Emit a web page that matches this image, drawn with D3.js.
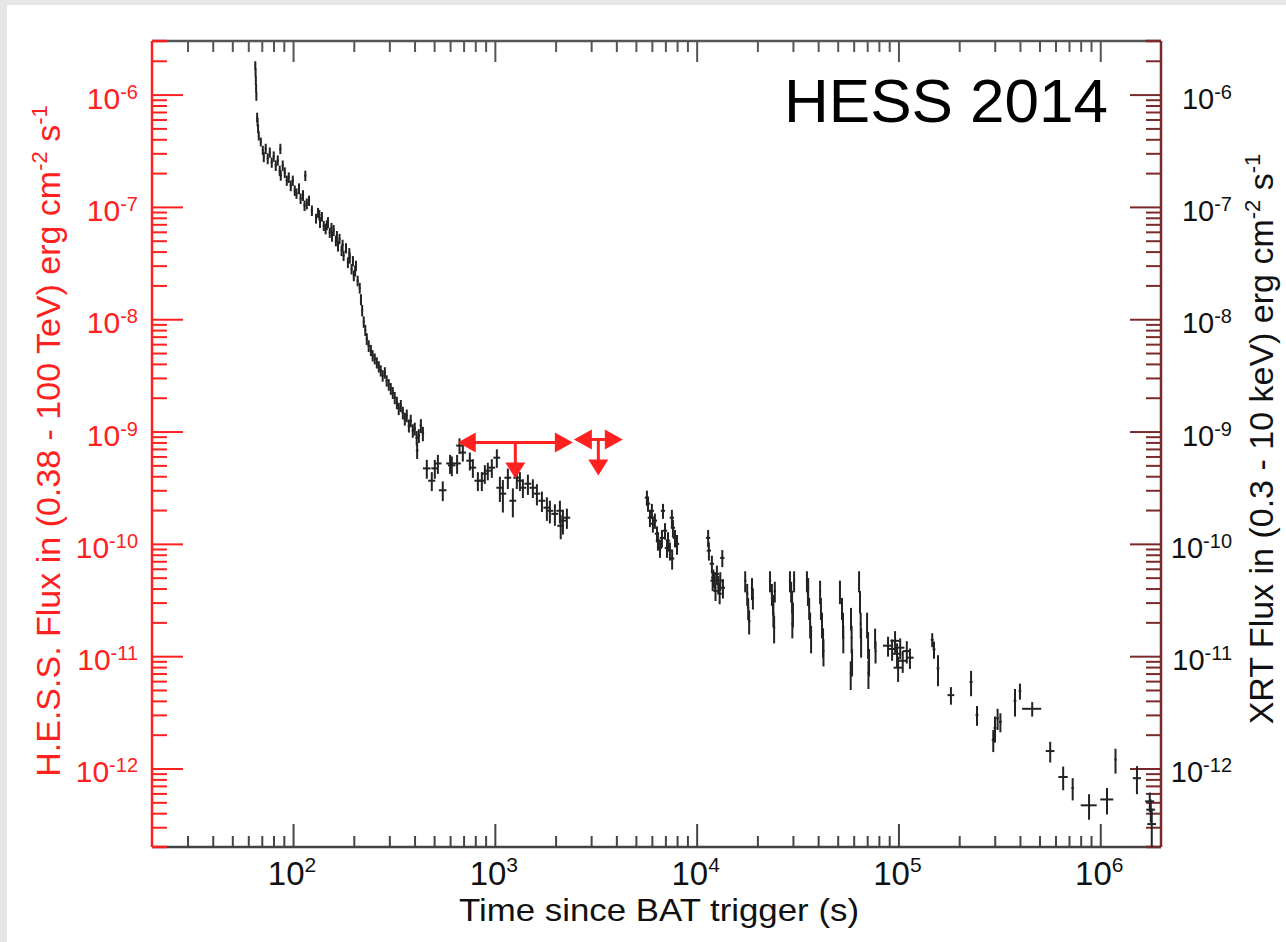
<!DOCTYPE html>
<html>
<head>
<meta charset="utf-8">
<script src="https://cdn.jsdelivr.net/npm/d3@7"></script>
<style>
  body { margin: 0; background: #e6e6e6; }
  svg { display: block; }
  text { font-family: "Liberation Sans", Arial, Helvetica, sans-serif; }
</style>
</head>
<body>
<svg id="chart" width="1286" height="942"></svg>
<script>
// XRT light curve, rows are [time (s), time half-width (s), flux, flux error]
const xrtEarly = [
  [65.0, 0.4, 1.82e-6, 0.16e-6], [65.2, 0.4, 1.58e-6, 0.14e-6], [65.4, 0.4, 1.34e-6, 0.12e-6],
  [65.6, 0.4, 1.14e-6, 0.10e-6], [65.8, 0.4, 9.7e-7, 0.9e-7], [66.4, 0.5, 6.3e-7, 0.6e-7],
  [66.7, 0.5, 5.7e-7, 0.5e-7], [67.1, 0.5, 5.0e-7, 0.45e-7], [67.6, 0.6, 4.3e-7, 0.4e-7],
  [69.2, 0.7, 3.8e-7, 0.35e-7], [70.8, 0.7, 3.2e-7, 0.3e-7], [71.6, 0.7, 2.8e-7, 0.3e-7],
  [73.2, 0.8, 3.3e-7, 0.35e-7], [74.9, 0.8, 2.7e-7, 0.3e-7], [76.7, 0.8, 3.06e-7, 0.32e-7],
  [78.4, 0.9, 2.49e-7, 0.26e-7], [80.2, 0.9, 2.82e-7, 0.3e-7], [82.1, 0.9, 2.34e-7, 0.25e-7],
  [84.0, 1.0, 2.6e-7, 0.27e-7], [85.9, 1.0, 2.11e-7, 0.22e-7], [86.5, 1.0, 3.3e-7, 0.35e-7],
  [86.9, 1.0, 1.91e-7, 0.2e-7], [88.9, 1.0, 2.34e-7, 0.25e-7], [91.0, 1.1, 2.03e-7, 0.22e-7],
  [93.1, 1.1, 1.72e-7, 0.18e-7], [95.2, 1.1, 1.83e-7, 0.2e-7], [97.4, 1.2, 1.55e-7, 0.17e-7],
  [99.7, 1.2, 1.72e-7, 0.18e-7], [102, 1.2, 1.40e-7, 0.15e-7], [104, 1.3, 1.32e-7, 0.14e-7],
  [107, 1.3, 1.46e-7, 0.16e-7], [109, 1.3, 1.19e-7, 0.13e-7], [112, 1.4, 1.27e-7, 0.14e-7],
  [114, 1.4, 1.03e-7, 0.11e-7], [115, 1.4, 1.9e-7, 0.2e-7], [117, 1.4, 1.07e-7, 0.12e-7],
  [120, 1.5, 1.14e-7, 0.12e-7], [124, 1.5, 9.3e-8, 1.0e-8]
]

const xrtDense = [
  [130, 1.5, 7.9e-8, 0.8e-8], [133, 1.5, 8.9e-8, 0.9e-8], [135, 1.5, 8.5e-8, 0.9e-8],
  [136, 1.5, 7.3e-8, 0.8e-8], [139, 1.6, 8.2e-8, 0.8e-8], [142, 1.6, 6.8e-8, 0.7e-8],
  [145, 1.6, 6.4e-8, 0.7e-8], [147, 1.6, 6.9e-8, 0.7e-8], [149, 1.7, 7.3e-8, 0.8e-8],
  [152, 1.7, 5.9e-8, 0.6e-8], [155, 1.7, 6.5e-8, 0.7e-8], [156, 1.7, 5.5e-8, 0.6e-8],
  [159, 1.8, 6.2e-8, 0.7e-8], [163, 1.8, 5.0e-8, 0.55e-8], [165, 1.8, 5.5e-8, 0.6e-8],
  [167, 1.9, 4.5e-8, 0.5e-8], [170, 1.9, 5.2e-8, 0.55e-8], [174, 1.9, 4.1e-8, 0.45e-8],
  [176, 2.0, 4.6e-8, 0.5e-8], [178, 2.0, 3.7e-8, 0.4e-8], [183, 2.0, 4.3e-8, 0.45e-8],
  [187, 2.1, 3.2e-8, 0.35e-8], [190, 2.1, 3.9e-8, 0.4e-8], [191, 2.1, 3.5e-8, 0.38e-8],
  [195, 2.2, 2.8e-8, 0.3e-8], [198, 2.2, 3.3e-8, 0.35e-8], [200, 2.2, 2.45e-8, 0.27e-8],
  [203, 2.3, 2.7e-8, 0.3e-8], [205, 2.3, 3.0e-8, 0.32e-8], [209, 2.3, 2.2e-8, 0.24e-8],
  [214, 2.4, 1.9e-8, 0.21e-8], [217, 2.4, 1.5e-8, 0.17e-8], [220, 2.5, 1.2e-8, 0.14e-8],
  [224, 2.5, 9.5e-9, 1.1e-9], [228, 2.5, 8.0e-9, 0.9e-9]
]

const xrtSteep = [
  [232, 3, 6.7e-9, 0.8e-9], [237, 3, 5.8e-9, 0.7e-9], [243, 3, 5.3e-9, 0.6e-9],
  [248, 3, 4.75e-9, 0.55e-9], [254, 3, 4.46e-9, 0.5e-9], [260, 3, 4.11e-9, 0.47e-9],
  [266, 3, 3.79e-9, 0.44e-9], [272, 3, 3.49e-9, 0.4e-9], [278, 3, 3.15e-9, 0.37e-9],
  [285, 3.5, 3.35e-9, 0.39e-9], [291, 3.5, 2.84e-9, 0.33e-9], [298, 3.5, 2.62e-9, 0.31e-9],
  [305, 3.5, 2.41e-9, 0.29e-9], [312, 4, 2.22e-9, 0.27e-9], [319, 4, 2.0e-9, 0.25e-9],
  [327, 4, 1.81e-9, 0.23e-9], [334, 4, 1.6e-9, 0.2e-9], [342, 4, 1.7e-9, 0.21e-9],
  [350, 4.5, 1.47e-9, 0.19e-9], [358, 4.5, 1.3e-9, 0.17e-9], [366, 4.5, 1.39e-9, 0.18e-9],
  [375, 5, 1.13e-9, 0.15e-9], [383, 5, 1.25e-9, 0.16e-9], [392, 5, 1.02e-9, 0.14e-9],
  [401, 5, 1.06e-9, 0.14e-9], [410, 6, 8.8e-10, 1.3e-10], [412, 6, 6.8e-10, 1.1e-10],
  [420, 6, 9.2e-10, 1.3e-10], [430, 6, 1.13e-9, 0.16e-9], [440, 6, 9.6e-10, 1.4e-10]
]

const xrtPlateau = [
  [460, 20, 4.7e-10, 0.9e-10], [487, 20, 3.65e-10, 0.7e-10], [504, 20, 4.7e-10, 0.9e-10],
  [522, 22, 5.2e-10, 1.0e-10], [552, 24, 3.0e-10, 0.6e-10], [600, 26, 5.2e-10, 1.0e-10],
  [612, 26, 5.0e-10, 1.0e-10], [650, 28, 5.2e-10, 1.0e-10], [668, 25, 7.5e-10, 1.2e-10],
  [694, 25, 6.5e-10, 1.1e-10], [752, 30, 5.5e-10, 1.0e-10], [778, 30, 4.77e-10, 0.9e-10],
  [824, 32, 3.65e-10, 0.7e-10], [862, 34, 3.65e-10, 0.7e-10], [892, 35, 4.22e-10, 0.8e-10],
  [923, 36, 4.48e-10, 0.8e-10], [966, 38, 4.77e-10, 0.9e-10], [1023, 40, 5.85e-10, 1.1e-10],
  [1059, 42, 3.16e-10, 0.8e-10], [1096, 43, 2.8e-10, 0.9e-10], [1160, 45, 3.88e-10, 0.8e-10],
  [1228, 48, 2.42e-10, 0.7e-10], [1285, 50, 3.88e-10, 0.8e-10], [1331, 52, 3.65e-10, 0.7e-10],
  [1377, 54, 3.16e-10, 0.6e-10], [1458, 57, 3.43e-10, 0.7e-10], [1543, 60, 3.16e-10, 0.6e-10],
  [1616, 63, 2.8e-10, 0.6e-10], [1711, 67, 2.42e-10, 0.5e-10], [1811, 70, 2.1e-10, 0.5e-10],
  [1874, 73, 1.97e-10, 0.45e-10], [1984, 78, 1.85e-10, 0.4e-10], [2101, 82, 1.97e-10, 0.45e-10],
  [2120, 82, 1.45e-10, 0.35e-10], [2174, 85, 1.61e-10, 0.4e-10], [2275, 88, 1.71e-10, 0.35e-10]
]

const xrtOrbits = [
  [5670, 140, 2.58e-10, 0.4e-10], [5740, 140, 2.28e-10, 0.35e-10], [5870, 150, 1.71e-10, 0.3e-10],
  [6000, 150, 1.97e-10, 0.3e-10], [6070, 150, 1.51e-10, 0.25e-10], [6210, 155, 1.61e-10, 0.25e-10],
  [6360, 160, 1.23e-10, 0.2e-10], [6430, 160, 1.07e-10, 0.2e-10], [6580, 165, 9.2e-11, 1.7e-11],
  [6730, 170, 1.13e-10, 0.2e-10], [6810, 170, 1.97e-10, 0.3e-10], [6970, 175, 1.31e-10, 0.22e-10],
  [7130, 180, 9.2e-11, 1.7e-11], [7210, 180, 1.07e-10, 0.2e-10], [7370, 185, 8.7e-11, 1.6e-11],
  [7540, 190, 1.71e-10, 0.3e-10], [7560, 190, 7.4e-11, 1.5e-11], [7630, 190, 1.39e-10, 0.25e-10],
  [7810, 195, 1.13e-10, 0.2e-10], [7990, 200, 1.0e-10, 0.2e-10],
  [11400, 280, 1.13e-10, 0.2e-10], [11500, 280, 8.7e-11, 1.6e-11], [11900, 300, 6.65e-11, 1.2e-11],
  [12000, 300, 4.7e-11, 0.9e-11], [12100, 300, 5.0e-11, 0.9e-11], [12300, 300, 4.7e-11, 0.9e-11],
  [12400, 310, 3.8e-11, 0.7e-11], [12600, 310, 5.4e-11, 1.0e-11], [12800, 320, 4.4e-11, 0.8e-11],
  [13000, 320, 3.6e-11, 0.7e-11], [13100, 320, 4.7e-11, 0.9e-11], [13400, 330, 7.5e-11, 1.3e-11],
  [13500, 330, 4.06e-11, 0.8e-11],
  [17400, 250, 4.7e-11, 1.0e-11], [17800, 250, 3.6e-11, 0.8e-11], [18000, 250, 2.7e-11, 0.6e-11],
  [18200, 250, 2.06e-11, 0.5e-11], [18800, 250, 4.06e-11, 0.9e-11], [19000, 250, 3.3e-11, 0.7e-11],
  [23100, 300, 4.7e-11, 1.0e-11], [23600, 300, 3.6e-11, 0.8e-11], [23900, 300, 2.9e-11, 0.6e-11],
  [24000, 300, 2.4e-11, 0.6e-11], [24200, 300, 1.8e-11, 0.5e-11], [24400, 300, 3.8e-11, 0.8e-11],
  [29000, 350, 4.7e-11, 1.0e-11], [29400, 350, 3.8e-11, 0.8e-11], [29700, 350, 3.1e-11, 0.7e-11],
  [29800, 350, 1.94e-11, 0.5e-11], [30000, 350, 2.4e-11, 0.6e-11], [30400, 350, 4.7e-11, 1.0e-11],
  [35200, 400, 4.7e-11, 1.0e-11], [35600, 400, 3.6e-11, 0.8e-11], [35700, 400, 4.06e-11, 0.9e-11],
  [36100, 400, 2.7e-11, 0.6e-11], [36500, 400, 1.94e-11, 0.5e-11], [36900, 400, 1.46e-11, 0.4e-11],
  [40900, 450, 3.8e-11, 0.9e-11], [41300, 450, 2.7e-11, 0.6e-11], [41800, 450, 1.94e-11, 0.5e-11],
  [42300, 450, 1.37e-11, 0.4e-11], [42500, 450, 1.11e-11, 0.3e-11],
  [51300, 550, 3.8e-11, 0.9e-11], [52500, 550, 2.7e-11, 0.6e-11], [53100, 550, 1.94e-11, 0.5e-11],
  [53300, 550, 1.46e-11, 0.4e-11],
  [58200, 600, 2.19e-11, 0.5e-11], [58600, 600, 1.46e-11, 0.4e-11], [58900, 600, 9.1e-12, 2.5e-12],
  [58000, 600, 7.0e-12, 2.0e-12],
  [63800, 650, 4.7e-11, 1.0e-11], [64500, 650, 3.1e-11, 0.7e-11], [65000, 650, 1.94e-11, 0.5e-11],
  [65300, 650, 1.37e-11, 0.4e-11],
  [69900, 700, 1.94e-11, 0.5e-11], [70700, 700, 1.29e-11, 0.35e-11], [71500, 700, 9.1e-12, 2.5e-12],
  [71000, 700, 7.1e-12, 2.0e-12],
  [76600, 800, 1.46e-11, 0.3e-11], [77000, 800, 1.11e-11, 0.25e-11]
]

const xrtLate = [
  [88800, 5000, 1.24e-11, 0.25e-11], [93000, 5000, 1.16e-11, 0.25e-11], [96200, 5000, 1.37e-11, 0.3e-11],
  [98400, 5000, 1.05e-11, 0.25e-11], [99600, 5000, 7.9e-12, 2.0e-12], [102000, 5000, 1.19e-11, 0.25e-11],
  [105000, 5000, 9.1e-12, 2.0e-12], [110000, 5000, 1.11e-11, 0.25e-11], [114000, 5000, 9.7e-12, 2.0e-12],
  [147000, 2500, 1.4e-11, 2.0e-12], [150000, 2500, 1.15e-11, 2.0e-12], [157000, 2500, 7.8e-12, 2.4e-12],
  [182000, 7000, 4.5e-12, 0.8e-12], [229000, 4000, 5.9e-12, 1.5e-12], [245000, 4000, 3.0e-12, 0.6e-12],
  [295000, 5000, 1.8e-12, 0.4e-12], [301000, 5000, 2.3e-12, 0.6e-12], [310000, 5000, 2.8e-12, 0.6e-12],
  [320000, 5000, 2.6e-12, 0.5e-12], [378000, 6000, 4.0e-12, 1.1e-12], [400000, 6000, 4.9e-12, 0.8e-12],
  [460000, 50000, 3.4e-12, 0.5e-12], [565000, 28000, 1.43e-12, 0.3e-12], [655000, 35000, 8.4e-13, 2.0e-13],
  [730000, 10000, 6.7e-13, 1.5e-13], [880000, 80000, 4.7e-13, 1.2e-13], [1080000, 80000, 5.3e-13, 1.4e-13],
  [1190000, 15000, 1.2e-12, 3.0e-13], [1520000, 70000, 8.2e-13, 2.3e-13], [1760000, 90000, 5.1e-13, 1.0e-13],
  [1780000, 90000, 4.3e-13, 1.0e-13], [1800000, 90000, 3.2e-13, 1.2e-13]
]

// H.E.S.S. upper limits: [start (s), end (s), flux]
const hessLimits = [[655, 2436, 8.0e-10], [2464, 4305, 8.5e-10]]

const xDecades = [2, 3, 4, 5, 6]
const yDecades = [-6, -7, -8, -9, -10, -11, -12]

const W = 1286, H = 942
const L = 152, R = 1161, T = 41, B = 847
const RED = '#ff2020', MAROON = '#7a2a2a'

let svg = d3.select('#chart')
svg.append('rect').attr('width', W).attr('height', H).attr('fill', '#e6e6e6')
svg.append('rect').attr('x', 7).attr('y', 5).attr('width', W - 7).attr('height', H - 5).attr('fill', '#fff')

let x = d3.scaleLog().domain([20, 2e6]).range([L, R])
let y = d3.scaleLog().domain([2e-13, 3e-6]).range([B, T])

const isMajor = v => Math.abs(Math.log10(v) - Math.round(Math.log10(v))) < 1e-6
let xTicks = x.ticks().filter(v => v > 20 && v < 2e6)
let yTicks = y.ticks().filter(v => v > 2e-13 && v < 3e-6)

function ticks(axisFn, scale, vals, size, color, transform) {
  let g = svg.append('g').attr('transform', transform)
    .call(axisFn(scale).tickValues(vals).tickSize(size).tickFormat(''))
  g.select('.domain').remove()
  g.selectAll('line').attr('stroke', color).attr('stroke-width', 2)
}

ticks(d3.axisBottom, x, xTicks.filter(v => !isMajor(v)), -11, '#444', `translate(0,${B})`)
ticks(d3.axisBottom, x, xTicks.filter(isMajor), -23, '#444', `translate(0,${B})`)
ticks(d3.axisTop, x, xTicks.filter(v => !isMajor(v)), -11, '#555', `translate(0,${T})`)
ticks(d3.axisTop, x, xTicks.filter(isMajor), -21, '#555', `translate(0,${T})`)
ticks(d3.axisLeft, y, yTicks.filter(v => !isMajor(v)), -15, RED, `translate(${L},0)`)
ticks(d3.axisLeft, y, yTicks.filter(isMajor), -31, RED, `translate(${L},0)`)
ticks(d3.axisRight, y, yTicks.filter(v => !isMajor(v)), -15, MAROON, `translate(${R},0)`)
ticks(d3.axisRight, y, yTicks.filter(isMajor), -31, MAROON, `translate(${R},0)`)

// frame
svg.append('line').attr('x1', L).attr('x2', R).attr('y1', T).attr('y2', T).attr('stroke', '#555').attr('stroke-width', 2.5)
svg.append('line').attr('x1', L).attr('x2', R).attr('y1', B).attr('y2', B).attr('stroke', '#444').attr('stroke-width', 2.5)
svg.append('line').attr('x1', L).attr('x2', L).attr('y1', T).attr('y2', B).attr('stroke', RED).attr('stroke-width', 2.5)
svg.append('line').attr('x1', R).attr('x2', R).attr('y1', T).attr('y2', B).attr('stroke', MAROON).attr('stroke-width', 2.5)
;[T, B].forEach(yy => {
  svg.append('line').attr('x1', L).attr('x2', L + 15).attr('y1', yy).attr('y2', yy).attr('stroke', RED).attr('stroke-width', 2.5)
  svg.append('line').attr('x1', R - 15).attr('x2', R).attr('y1', yy).attr('y2', yy).attr('stroke', MAROON).attr('stroke-width', 2.5)
})

// tick labels
function pow(sel, e, supSize, rise) {
  sel.append('tspan').text('10')
  sel.append('tspan').attr('font-size', supSize).attr('dy', -rise).text(e)
}

svg.append('g').selectAll('text').data(xDecades).join('text')
  .attr('x', d => x(Math.pow(10, d)) - 1).attr('y', 885)
  .attr('text-anchor', 'middle').attr('font-size', 33).attr('fill', '#111')
  .each(function (d) { pow(d3.select(this), d, 21, 13) })

svg.append('g').selectAll('text').data(yDecades).join('text')
  .attr('x', 138).attr('y', d => y(Math.pow(10, d)) + 14)
  .attr('text-anchor', 'end').attr('font-size', 30).attr('fill', RED)
  .each(function (d) { pow(d3.select(this), d, 20, 10) })

svg.append('g').selectAll('text').data(yDecades).join('text')
  .attr('x', 1232).attr('y', d => y(Math.pow(10, d)) + 14)
  .attr('text-anchor', 'end').attr('font-size', 29).attr('fill', '#111')
  .each(function (d) { pow(d3.select(this), d, 20, 10) })

// axis titles
svg.append('text').attr('x', 659).attr('y', 921).attr('text-anchor', 'middle')
  .attr('font-size', 32).attr('fill', '#111')
  .attr('textLength', 400).attr('lengthAdjust', 'spacingAndGlyphs')
  .text('Time since BAT trigger (s)')

function unitTitle(sel, main) {
  sel.append('tspan').text(main + ' erg cm')
  sel.append('tspan').attr('font-size', 22).attr('dy', -13).text('-2')
  sel.append('tspan').attr('dy', 13).text(' s')
  sel.append('tspan').attr('font-size', 22).attr('dy', -13).text('-1')
}

svg.append('text').attr('transform', 'translate(60,441) rotate(-90)')
  .attr('text-anchor', 'middle').attr('font-size', 34).attr('fill', RED)
  .call(unitTitle, 'H.E.S.S. Flux in (0.38 - 100 TeV)')

svg.append('text').attr('transform', 'translate(1273,439) rotate(-90)')
  .attr('text-anchor', 'middle').attr('font-size', 34).attr('fill', '#111')
  .call(unitTitle, 'XRT Flux in (0.3 - 10 keV)')

// data
svg.append('clipPath').attr('id', 'plot-clip')
  .append('rect').attr('x', L).attr('y', T).attr('width', R - L).attr('height', B - T)
let plot = svg.append('g').attr('clip-path', 'url(#plot-clip)')

let points = [].concat(xrtEarly, xrtDense, xrtSteep, xrtPlateau, xrtOrbits, xrtLate)
plot.append('g').attr('stroke', '#222').attr('stroke-width', 2)
  .selectAll('g').data(points).join('g')
  .each(function (d) {
    let g = d3.select(this)
    g.append('line')
      .attr('x1', x(d[0])).attr('x2', x(d[0]))
      .attr('y1', y(d[2] + d[3])).attr('y2', y(Math.max(d[2] - d[3], 1e-14)))
    g.append('line')
      .attr('x1', x(d[0] - d[1])).attr('x2', x(d[0] + d[1]))
      .attr('y1', y(d[2])).attr('y2', y(d[2]))
  })

// H.E.S.S. upper limits
let ul = svg.append('g').attr('fill', RED).attr('stroke', RED)
hessLimits.forEach(d => {
  let x0 = x(d[0]), x1 = x(d[1]), xc = x(Math.sqrt(d[0] * d[1])), yy = y(d[2])
  ul.append('line').attr('x1', x0 + 10).attr('x2', x1 - 10).attr('y1', yy).attr('y2', yy).attr('stroke-width', 3)
  ul.append('path').attr('stroke', 'none')
    .attr('d', `M${x0},${yy} L${x0 + 18},${yy - 10} L${x0 + 18},${yy + 10} Z`)
  ul.append('path').attr('stroke', 'none')
    .attr('d', `M${x1},${yy} L${x1 - 18},${yy - 10} L${x1 - 18},${yy + 10} Z`)
  ul.append('line').attr('x1', xc).attr('x2', xc).attr('y1', yy).attr('y2', yy + 24).attr('stroke-width', 3)
  ul.append('path').attr('stroke', 'none')
    .attr('d', `M${xc - 10},${yy + 20} L${xc + 10},${yy + 20} L${xc},${yy + 36} Z`)
})

svg.append('text').attr('x', 1108).attr('y', 122).attr('text-anchor', 'end')
  .attr('font-size', 62).attr('fill', '#000').text('HESS 2014')
</script>
</body>
</html>
